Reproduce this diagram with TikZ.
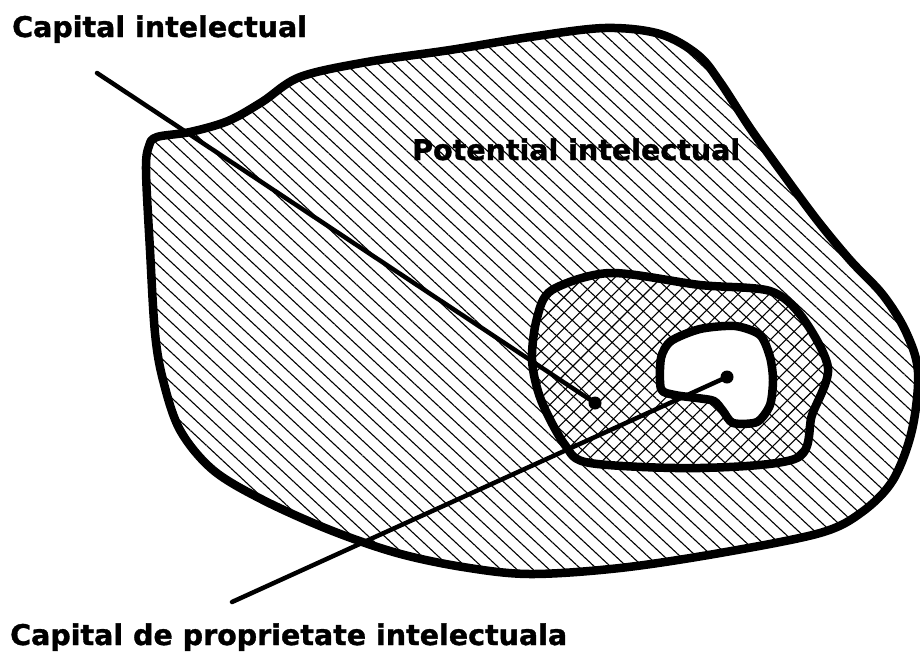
\documentclass[tikz,border=0pt]{standalone}
\usepackage{fontspec}
\setmainfont{DejaVu Sans}
\newfontfamily\heavyfont{DejaVu Sans}[UprightFont=* Bold, FakeBold=1.2]
\usetikzlibrary{patterns.meta, positioning}

\begin{document}
\begin{tikzpicture}[
            x=1pt, y=-1pt,
            outline/.style={line width=8.5pt, line join=round},
            hatchbase/.style={pattern={Lines[angle=-43, distance=11pt, line width=1.1pt]}},
            hatchcross/.style={pattern={Lines[angle=45, distance=11pt, line width=1.1pt]}},
            leader/.style={line width=4.5pt, line cap=round},
            dotnode/.style={circle, fill=black, inner sep=0pt, minimum size=13pt},
            titletext/.style={font=\fontsize{28.5}{34}\selectfont\heavyfont, inner sep=0pt, anchor=base west}
        ]
            \useasboundingbox (0,0) rectangle (920,659);

            \draw[outline, hatchbase] plot[smooth cycle, tension=0.55] coordinates {
                (157,137) (190,132) (228,121) (262,102) (300,77) (367,62) (450,50)
                (530,37) (605,28) (660,34) (698,55) (720,82) (750,128) (783,174)
                (817,220) (850,260) (883,295) (906,332) (918,372) (912,430)
                (893,480) (862,512) (820,533) (720,553) (620,568) (530,574)
                (463,567) (397,553) (330,530) (263,500) (213,470) (180,430)
                (163,380) (155,333) (150,250) (146,170) (149,146)};

            \draw[outline, preaction={fill=white}, preaction={hatchbase}, preaction={hatchcross}]
                plot[smooth cycle, tension=0.5] coordinates {
                (552,290) (610,273) (700,285) (770,291) (802,317) (828,368)
                (812,415) (797,458) (700,468) (590,463) (565,445) (541,400)
                (532,360) (537,318)};

            \draw[outline, fill=white] plot[smooth cycle, tension=0.45] coordinates {
                (700,329) (735,326) (760,335) (770,357) (773,380) (770,405)
                (757,422) (733,423) (723,411) (714,401) (697,398) (675,395)
                (661,389) (661,358) (671,341)};

            \coordinate (icstart) at (97,73);
            \node[dotnode] (icdot) at (595,403) {};
            \draw[leader] (icstart) -- (icdot.center);

            \coordinate (ipstart) at (232,602);
            \node[dotnode] (ipdot) at (727,377) {};
            \draw[leader] (ipstart) -- (ipdot.center);

            \node[titletext] (captop) at (12,37) {Capital intelectual};
            \node[titletext] (potential) at (412,160) {Potential intelectual};
            \node[titletext] (capbottom) at (10,645) {Capital de proprietate intelectuala};
        \end{tikzpicture}
\end{document}
